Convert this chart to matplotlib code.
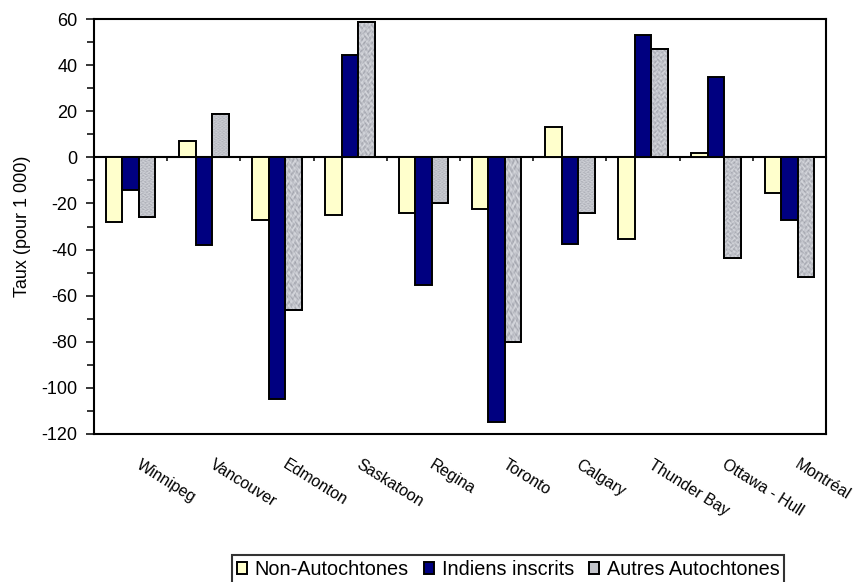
import matplotlib
matplotlib.use("Agg")
import matplotlib.pyplot as plt
import numpy as np
from matplotlib.colors import LinearSegmentedColormap
from matplotlib.transforms import ScaledTranslation

plt.rcParams['font.family'] = ['Liberation Sans', 'DejaVu Sans']
plt.rcParams['axes.unicode_minus'] = False

villes = ['Winnipeg', 'Vancouver', 'Edmonton', 'Saskatoon', 'Regina',
          'Toronto', 'Calgary', 'Thunder Bay', 'Ottawa - Hull', 'Montréal']
non_autochtones = [-28, 7, -27, -25, -24, -22.5, 13, -35.5, 2, -15.5]
indiens_inscrits = [-14, -38, -105, 44.5, -55.5, -115, -37.5, 53, 35, -27]
autres_autochtones = [-26, 19, -66, 58.5, -20, -80, -24, 47, -43.5, -52]

fig = plt.figure(figsize=(8.57, 5.82), dpi=100)
ax = fig.add_axes([94/857, 1 - 434/582, (826 - 94)/857, (434 - 19)/582])

x = np.arange(len(villes))
w = 0.225

b1 = ax.bar(x - w, non_autochtones, w, color='#ffffcc', edgecolor='black',
            linewidth=1.4, label='Non-Autochtones', zorder=2)
b2 = ax.bar(x, indiens_inscrits, w, color='#000080', edgecolor='black',
            linewidth=1.4, label='Indiens inscrits', zorder=2)
b3 = ax.bar(x + w, autres_autochtones, w, color='#c2c4ca', edgecolor='black',
            linewidth=1.4, label='Autres Autochtones', zorder=2)

# granite-like texture for the grey series
yy, xx = np.mgrid[0:240, 0:30]
tex = (np.sin(xx * 0.9 + 2.1 * np.sin(yy * 0.37))
       + np.sin(yy * 0.61 + 1.7 * np.cos(xx * 0.53))
       + 0.6 * np.sin((xx + yy) * 1.3)
       + 0.5 * np.cos(xx * 1.7 - yy * 0.9))
granite = LinearSegmentedColormap.from_list(
    'granite', ['#8a8c96', '#b2b4bc', '#d0d2d8', '#e8e9ec'])
for bar in b3:
    x0, y0 = bar.get_x(), bar.get_y()
    im = ax.imshow(tex, extent=(x0, x0 + bar.get_width(), y0, y0 + bar.get_height()),
                   cmap=granite, aspect='auto', interpolation='bilinear', zorder=2.5)
    im.set_clip_path(bar)
ax.bar(x + w, autres_autochtones, w, fill=False, edgecolor='black',
       linewidth=1.4, zorder=3)

ax.set_xlim(-0.5, len(villes) - 0.5)
ax.set_ylim(-120, 60)
ax.set_yticks(np.arange(-120, 61, 20))
ax.set_yticks(np.arange(-110, 60, 20), minor=True)
ax.tick_params(axis='y', which='major', length=6, width=1.1, labelsize=13, pad=6)
ax.tick_params(axis='y', which='minor', length=5, width=1.1)
ax.set_ylabel('Taux (pour 1 000)', fontsize=13, labelpad=7)

ax.set_xticks(x)
ax.set_xticklabels(villes, rotation=-32, rotation_mode='anchor',
                   ha='left', va='top', fontsize=11.5)
ax.tick_params(axis='x', length=0, pad=16.5)
shift = ScaledTranslation(8/72, 0, fig.dpi_scale_trans)
for lab in ax.get_xticklabels():
    lab.set_transform(lab.get_transform() + shift)

for s in ax.spines.values():
    s.set_linewidth(1.5)

# category axis crossing at zero, ticks between groups
zero = ax.secondary_xaxis(0, transform=ax.transData)
zero.set_xticks(x[:-1] + 0.5)
zero.set_xticklabels([])
zero.tick_params(length=3, width=1.1, direction='out')
zero.spines['bottom'].set_linewidth(1.5)

leg = fig.legend(handles=[b1, b2, b3], loc='upper left',
                 bbox_to_anchor=(232/857, 1 - 555/582), ncol=3, fontsize=14.3,
                 frameon=True, fancybox=False, edgecolor='black',
                 handlelength=0.5, handleheight=0.5, handletextpad=0.4,
                 columnspacing=0.75, borderpad=0.25, borderaxespad=0)
leg.get_frame().set_linewidth(1.5)

fig.savefig('out.png', dpi=100)
